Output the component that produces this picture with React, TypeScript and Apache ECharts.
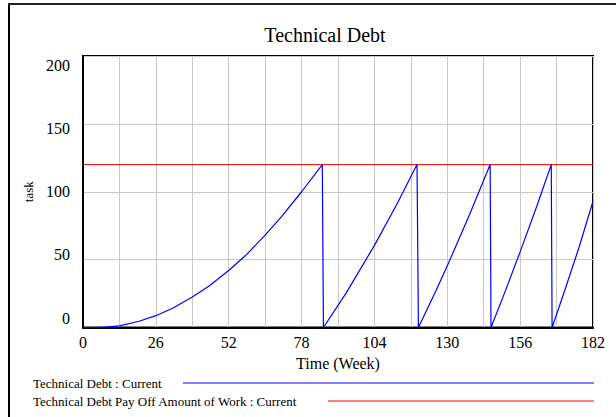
import React, { useEffect, useRef } from "react";
import * as echarts from "echarts";

const TITLE = "Technical Debt";
const X_NAME = "Time (Week)";
const Y_NAME = "task";
const SERIES_DEBT = "Technical Debt : Current";
const SERIES_PAYOFF = "Technical Debt Pay Off Amount of Work : Current";

// Technical Debt (blue sawtooth)
const debtWeeks = [
  0, 4, 8, 13, 20, 26, 32, 39, 45, 52, 58, 65, 71, 78, 85.4,
  85.8, 94, 104, 112, 119.2,
  119.7, 126, 130, 138, 145.3,
  145.6, 150, 156, 162, 167.1,
  167.4, 172, 177, 182,
];
const debtValues = [
  0, 0, 0.3, 1.2, 4.6, 8.7, 14.2, 22.5, 30.6, 42, 53, 68, 82, 100, 120,
  0, 25.7, 60.5, 90.8, 120,
  0, 27.3, 45.4, 83.4, 120,
  0, 23.1, 55.7, 89.7, 120,
  0, 27.8, 58.9, 93,
];

// Pay off amount of work (red constant)
const payoffWeeks = [0, 182];
const payoffValues = [120, 120];

const xTicks = [0, 26, 52, 78, 104, 130, 156, 182];
const yTicks = [0, 50, 100, 150, 200];

const FONT = "'Liberation Serif', 'Times New Roman', serif";

export default function App() {
  const ref = useRef<HTMLDivElement>(null);

  useEffect(() => {
    if (!ref.current) return;
    const chart = echarts.init(ref.current, undefined, { renderer: "svg" });

    // vertical offsets of y labels as in the reference (labels spread slightly inward)
    const rich: Record<string, any> = {};
    yTicks.forEach((v) => {
      const d = (v - 100) * 0.095;
      rich["s" + v] = {
        fontFamily: FONT,
        fontSize: 16,
        color: "#000",
        padding: d >= 0 ? [2 * d, 0, 0, 0] : [0, 0, -2 * d, 0],
      };
    });

    const option: any = {
      animation: false,
      backgroundColor: "#fff",
      textStyle: { fontFamily: FONT },
      title: {
        text: TITLE,
        left: 320,
        textAlign: "center",
        top: 20,
        textStyle: { fontFamily: FONT, fontSize: 20, fontWeight: "normal", color: "#000" },
      },
      grid: {
        left: 83,
        right: 23,
        top: 56,
        bottom: 89.5,
        show: true,
        borderColor: "#000",
        borderWidth: 2,
        backgroundColor: "transparent",
      },
      xAxis: {
        type: "value",
        min: 0,
        max: 182,
        interval: 13,
        name: X_NAME,
        nameLocation: "middle",
        nameGap: 26,
        nameTextStyle: { fontFamily: FONT, fontSize: 16, color: "#000" },
        axisLine: { show: true, lineStyle: { color: "#000", width: 2 } },
        axisTick: { show: false },
        axisLabel: {
          fontFamily: FONT,
          fontSize: 16,
          color: "#000",
          margin: 7,
          formatter: (v: number) => (xTicks.includes(v) ? String(v) : ""),
        },
        splitLine: { show: true, lineStyle: { color: "#c8c8c8", width: 1 } },
      },
      yAxis: {
        type: "value",
        min: 0,
        max: 200,
        interval: 50,
        name: Y_NAME,
        nameLocation: "middle",
        nameGap: 47,
        nameRotate: 90,
        nameTextStyle: { fontFamily: FONT, fontSize: 13, color: "#000" },
        axisLine: { show: true, lineStyle: { color: "#000", width: 2 } },
        axisTick: { show: false },
        axisLabel: {
          fontFamily: FONT,
          fontSize: 16,
          color: "#000",
          margin: 13,
          formatter: (v: number) => `{s${v}|${v}}`,
          rich,
        },
        splitLine: { show: true, lineStyle: { color: "#c8c8c8", width: 1 } },
      },
      series: [
        {
          name: SERIES_DEBT,
          type: "line",
          data: debtWeeks.map((w, i) => [w, debtValues[i]]),
          showSymbol: false,
          lineStyle: { color: "#0000ff", width: 1.2 },
          itemStyle: { color: "#0000ff" },
          z: 3,
        },
        {
          name: SERIES_PAYOFF,
          type: "line",
          data: payoffWeeks.map((w, i) => [w, payoffValues[i]]),
          showSymbol: false,
          lineStyle: { color: "#ff0000", width: 1 },
          itemStyle: { color: "#ff0000" },
          z: 2,
        },
      ],
      graphic: [
        // outer frame (left and top)
        { type: "line", shape: { x1: 9, y1: 3, x2: 9, y2: 417 }, style: { stroke: "#000", lineWidth: 2 } },
        { type: "line", shape: { x1: 8, y1: 4, x2: 616, y2: 4 }, style: { stroke: "#222", lineWidth: 2 } },
        // legend
        {
          type: "text",
          x: 33,
          y: 383,
          style: { text: SERIES_DEBT, fontFamily: FONT, fontSize: 13, fill: "#000", verticalAlign: "middle" },
        },
        { type: "line", shape: { x1: 183, y1: 383, x2: 594, y2: 383 }, style: { stroke: "#0000ff", lineWidth: 1 } },
        {
          type: "text",
          x: 33,
          y: 401,
          style: { text: SERIES_PAYOFF, fontFamily: FONT, fontSize: 13, fill: "#000", verticalAlign: "middle" },
        },
        { type: "line", shape: { x1: 328, y1: 401, x2: 594, y2: 401 }, style: { stroke: "#ff0000", lineWidth: 1 } },
      ],
    };

    chart.setOption(option);
    return () => chart.dispose();
  }, []);

  return (
    <div
      ref={ref}
      style={{ position: "fixed", left: 0, top: 0, width: 616, height: 417, background: "#fff" }}
    />
  );
}
